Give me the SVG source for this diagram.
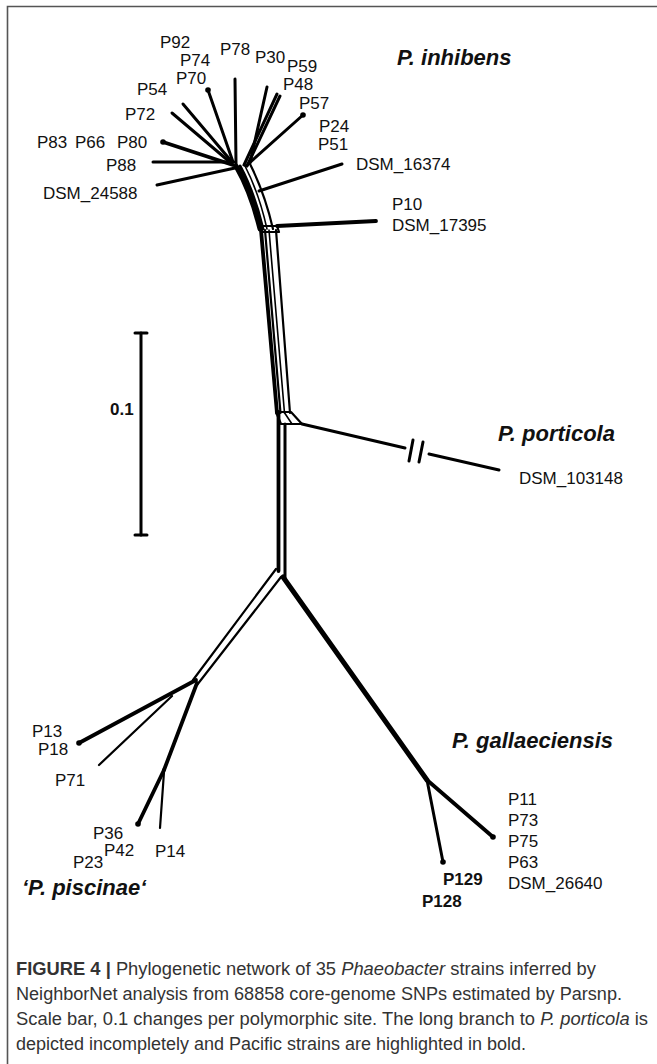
<svg xmlns="http://www.w3.org/2000/svg" width="657" height="1064" viewBox="0 0 657 1064">
<style>
.lbl{font-family:"Liberation Sans",Arial,sans-serif;font-size:17px;fill:#111}
.b{font-weight:bold}
.sp{font-family:"Liberation Sans",Arial,sans-serif;font-size:22px;font-weight:bold;font-style:italic;fill:#111}
.cap{font-family:"Liberation Sans",Arial,sans-serif;font-size:17.5px;fill:#333}
.e{stroke:#000;fill:none;stroke-linecap:round;stroke-linejoin:round}
.w1{stroke-width:1.6}.w2{stroke-width:2.2}.w3{stroke-width:3}.w4{stroke-width:3.8}.w5{stroke-width:5}
.dot{fill:#000}
</style>
<rect width="657" height="1064" fill="#fff"/>
<path d="M7.5,1064 V6.5 H657" stroke="#555" stroke-width="1.6" fill="none"/>

<g id="connectors">
  <!-- P. inhibens cluster -->
  <line class="e w3" x1="235" y1="79" x2="236" y2="164"/>
  <line class="e w3" x1="208" y1="90" x2="233" y2="162"/>
  <line class="e w3" x1="183" y1="104" x2="232" y2="162"/>
  <line class="e w3" x1="172" y1="113" x2="231" y2="163"/>
  <line class="e w4" x1="163" y1="142" x2="233" y2="165"/>
  <line class="e w3" x1="153" y1="162" x2="234" y2="162"/>
  <line class="e w3" x1="157" y1="185" x2="235" y2="168"/>
  <line class="e w3" x1="267" y1="87" x2="250" y2="163"/>
  <line class="e w3" x1="277" y1="94" x2="244" y2="165"/>
  <line class="e w3" x1="280" y1="96" x2="247" y2="166"/>
  <line class="e w3" x1="303" y1="115" x2="246" y2="166"/>
  <line class="e w3" x1="342" y1="164" x2="259" y2="191"/>
  <line class="e w4" x1="277" y1="226" x2="376" y2="221"/>
  <!-- trunk -->
  <path class="e w5" d="M236,166 Q251,192 260,229"/>
  <path class="e w3" d="M240,166 Q254,192 263,229"/>
  <path class="e w1" d="M245,166 Q259,193 267,229"/>
  <path class="e w2" d="M250,164 Q265,194 273,229"/>
  <path class="e w2" d="M259,226 H277 L279,232 H262"/>
  <line class="e w4" x1="261" y1="230" x2="277" y2="413"/>
  <line class="e w2" x1="265" y1="230" x2="280.5" y2="413"/>
  <line class="e w1" x1="269" y1="230" x2="284.5" y2="413"/>
  <line class="e w2" x1="276" y1="230" x2="290" y2="413"/>
  <path class="e w2" d="M276,412 H291 L302,424 H281 Z"/>
  <line class="e w1" x1="284" y1="412" x2="292" y2="424"/>
  <line class="e w4" x1="278.5" y1="412" x2="278.5" y2="571"/>
  <line class="e w3" x1="285" y1="424" x2="285" y2="578"/>
  <!-- P. porticola long branch (broken) -->
  <line class="e w3" x1="302" y1="424" x2="405" y2="448"/>
  <line class="e w3" x1="429" y1="454" x2="499" y2="470"/>
  <line class="e w3" x1="413" y1="440" x2="409" y2="461"/>
  <line class="e w3" x1="423" y1="442" x2="419" y2="462"/>
  <!-- P. piscinae -->
  <line class="e w2" x1="276" y1="569" x2="193" y2="680"/>
  <line class="e w2" x1="281" y1="577" x2="197" y2="685"/>
  <line class="e w4" x1="196" y1="680" x2="79" y2="743"/>
  <line class="e w2" x1="172" y1="696" x2="99" y2="765"/>
  <line class="e w4" x1="197" y1="683" x2="164" y2="770"/>
  <line class="e w4" x1="164" y1="770" x2="138" y2="824"/>
  <line class="e w2" x1="164" y1="772" x2="160" y2="828"/>
  <!-- P. gallaeciensis -->
  <line class="e w5" x1="283" y1="577" x2="427" y2="780"/>
  <line class="e w3" x1="427" y1="780" x2="443" y2="862"/>
  <line class="e w4" x1="427" y1="780" x2="493" y2="837"/>
</g>

<g id="scalebar">
  <line class="e w3" x1="141" y1="333" x2="141" y2="535"/>
  <line class="e w3" x1="135" y1="333" x2="147" y2="333"/>
  <line class="e w3" x1="135" y1="535" x2="147" y2="535"/>
  <text class="lbl b" x="110" y="415">0.1</text>
</g>

<g id="n-P92"><text class="lbl" x="160" y="48">P92</text></g>
<g id="n-P74"><text class="lbl" x="180" y="66">P74</text></g>
<g id="n-P70"><circle class="dot" cx="208" cy="90" r="2.8"/><text class="lbl" x="176" y="84">P70</text></g>
<g id="n-P78"><text class="lbl" x="220" y="55">P78</text></g>
<g id="n-P30"><text class="lbl" x="255" y="63">P30</text></g>
<g id="n-P59"><text class="lbl" x="287" y="72">P59</text></g>
<g id="n-P48"><text class="lbl" x="283" y="90">P48</text></g>
<g id="n-P57"><circle class="dot" cx="303" cy="115" r="2.8"/><text class="lbl" x="299" y="109">P57</text></g>
<g id="n-P54"><text class="lbl" x="137" y="95">P54</text></g>
<g id="n-P72"><text class="lbl" x="125" y="120">P72</text></g>
<g id="n-P83"><text class="lbl" x="37" y="148">P83</text></g>
<g id="n-P66"><text class="lbl" x="75" y="148">P66</text></g>
<g id="n-P80"><circle class="dot" cx="163" cy="142" r="2.8"/><text class="lbl" x="117" y="148">P80</text></g>
<g id="n-P88"><text class="lbl" x="106" y="171">P88</text></g>
<g id="n-DSM_24588"><text class="lbl" x="43" y="199">DSM_24588</text></g>
<g id="n-P24"><text class="lbl" x="319" y="132">P24</text></g>
<g id="n-P51"><text class="lbl" x="318" y="150">P51</text></g>
<g id="n-DSM_16374"><text class="lbl" x="356" y="170">DSM_16374</text></g>
<g id="n-P10"><text class="lbl" x="392" y="210">P10</text></g>
<g id="n-DSM_17395"><text class="lbl" x="392" y="231">DSM_17395</text></g>
<g id="n-inhibens"><text class="sp" x="397" y="65">P. inhibens</text></g>

<g id="n-porticola"><text class="sp" x="498" y="441">P. porticola</text></g>
<g id="n-DSM_103148"><text class="lbl" x="519" y="484">DSM_103148</text></g>

<g id="n-P13"><circle class="dot" cx="79" cy="743" r="2.8"/><text class="lbl" x="32" y="737">P13</text></g>
<g id="n-P18"><text class="lbl" x="38" y="755">P18</text></g>
<g id="n-P71"><text class="lbl" x="55" y="786">P71</text></g>
<g id="n-P36"><circle class="dot" cx="138" cy="824" r="2.8"/><text class="lbl" x="93" y="839">P36</text></g>
<g id="n-P42"><text class="lbl" x="104" y="856">P42</text></g>
<g id="n-P23"><text class="lbl" x="73" y="868">P23</text></g>
<g id="n-P14"><text class="lbl" x="155" y="857">P14</text></g>
<g id="n-piscinae"><text class="sp" x="22" y="895">‘P. piscinae‘</text></g>

<g id="n-gallaeciensis"><text class="sp" x="452" y="748">P. gallaeciensis</text></g>
<g id="n-P11group"><circle class="dot" cx="493" cy="837" r="2.8"/>
  <text class="lbl" x="508" y="805">P11</text>
  <text class="lbl" x="508" y="826">P73</text>
  <text class="lbl" x="508" y="847">P75</text>
  <text class="lbl" x="508" y="868">P63</text>
  <text class="lbl" x="508" y="889">DSM_26640</text>
</g>
<g id="n-P129"><circle class="dot" cx="443" cy="862" r="2.8"/><text class="lbl b" x="443" y="885">P129</text></g>
<g id="n-P128"><text class="lbl b" x="422" y="907">P128</text></g>

<g id="caption">
  <text class="cap" x="16" y="975" textLength="580" lengthAdjust="spacingAndGlyphs"><tspan font-weight="bold">FIGURE 4 |</tspan> Phylogenetic network of 35 <tspan font-style="italic">Phaeobacter</tspan> strains inferred by</text>
  <text class="cap" x="16" y="1000" textLength="606" lengthAdjust="spacingAndGlyphs">NeighborNet analysis from 68858 core-genome SNPs estimated by Parsnp.</text>
  <text class="cap" x="16" y="1025" textLength="632" lengthAdjust="spacingAndGlyphs">Scale bar, 0.1 changes per polymorphic site. The long branch to <tspan font-style="italic">P. porticola</tspan> is</text>
  <text class="cap" x="16" y="1050" textLength="510" lengthAdjust="spacingAndGlyphs">depicted incompletely and Pacific strains are highlighted in bold.</text>
</g>
</svg>
